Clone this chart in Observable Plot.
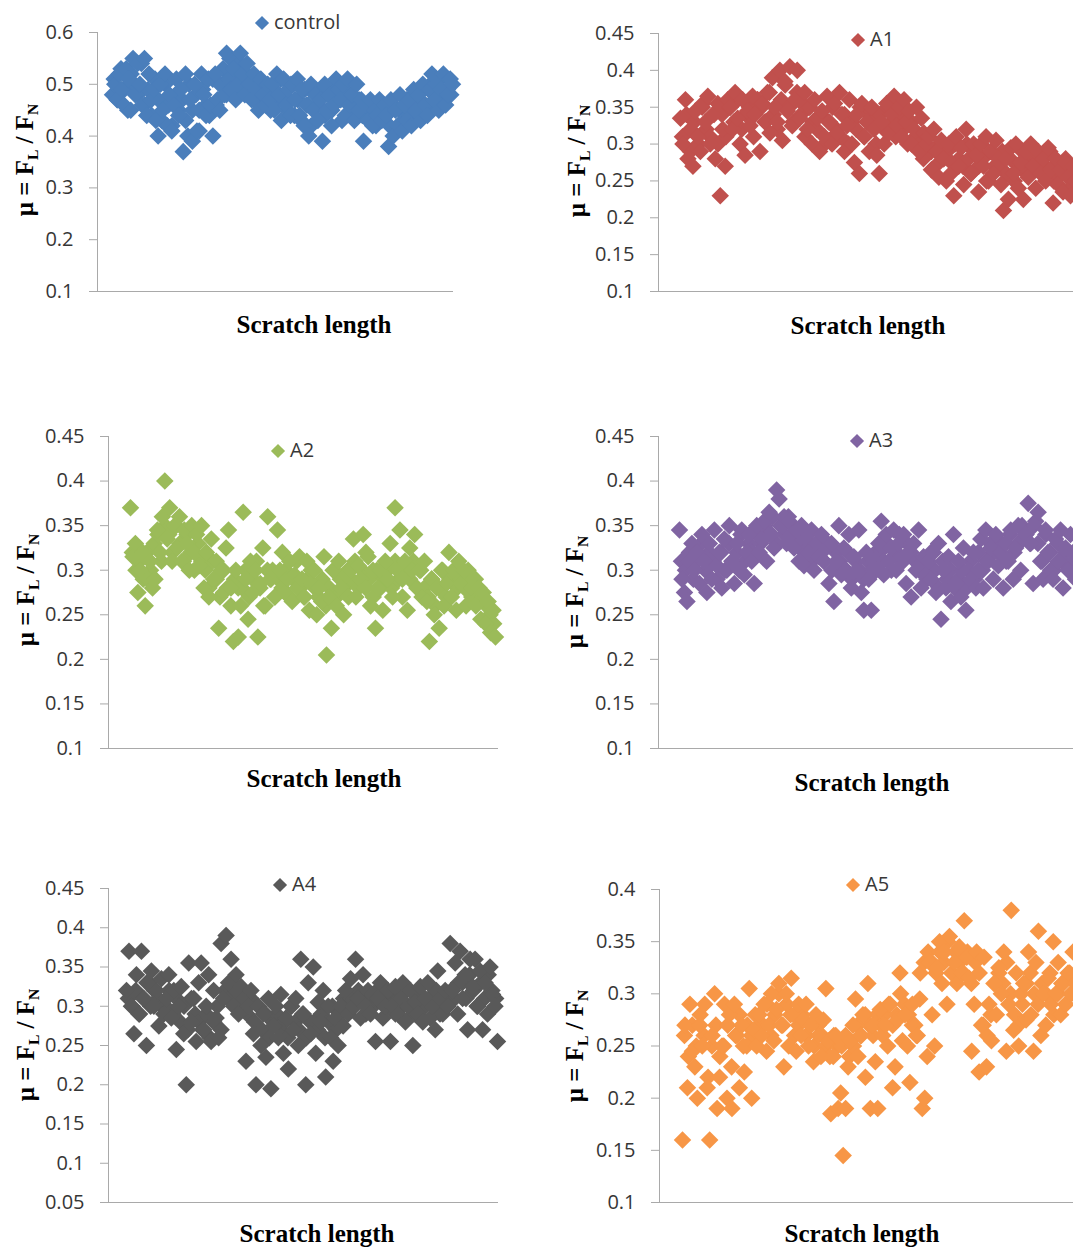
<!DOCTYPE html>
<html><head><meta charset="utf-8">
<script src="https://cdn.jsdelivr.net/npm/d3@7"></script>
<script src="https://cdn.jsdelivr.net/npm/@observablehq/plot@0.6"></script>
<style>
html,body{margin:0;padding:0;background:#fff;overflow:hidden;}
#chart{position:relative;width:1073px;height:1249px;overflow:hidden;background:#fff;}
.ylab{position:absolute;font-family:"Liberation Serif","Times New Roman",serif;font-weight:bold;font-size:25px;white-space:nowrap;transform:translate(-50%,-50%) rotate(-90deg);color:#000;line-height:1;}
.ylab sub{font-size:0.62em;vertical-align:-0.3em;}
.xt{position:absolute;font-family:"Liberation Serif","Times New Roman",serif;font-weight:bold;font-size:25px;line-height:1;transform:translateX(-50%);white-space:nowrap;color:#000;}
.leg{position:absolute;font-family:"Open Sans",sans-serif;font-size:20px;line-height:1;color:#383838;white-space:nowrap;}
.sw{position:absolute;width:10px;height:10px;transform:translate(-50%,-50%) rotate(45deg);}
</style></head><body><div id="chart"></div><script>
// Series names and colours
const seriesNames = ["control", "A1", "A2", "A3", "A4", "A5"];
const seriesColors = ["#4A7EBB", "#C0504D", "#9BBB59", "#8064A2", "#595959", "#F79646"];

// Y tick labels per panel
const ticksControl = [0.1, 0.2, 0.3, 0.4, 0.5, 0.6];
const ticksA1 = [0.1, 0.15, 0.2, 0.25, 0.3, 0.35, 0.4, 0.45];
const ticksA2 = [0.1, 0.15, 0.2, 0.25, 0.3, 0.35, 0.4, 0.45];
const ticksA3 = [0.1, 0.15, 0.2, 0.25, 0.3, 0.35, 0.4, 0.45];
const ticksA4 = [0.05, 0.1, 0.15, 0.2, 0.25, 0.3, 0.35, 0.4, 0.45];
const ticksA5 = [0.1, 0.15, 0.2, 0.25, 0.3, 0.35, 0.4];

// Friction coefficient values along the scratch, outer spread
const muControl = [0.48,0.50,0.47,0.52,0.49,0.46,0.53,0.51,0.45,0.55,
 0.48,0.54,0.50,0.46,0.55,0.44,0.52,0.47,0.49,0.43,
 0.40,0.50,0.45,0.52,0.42,0.48,0.41,0.46,0.51,0.44,
 0.49,0.37,0.52,0.40,0.47,0.39,0.50,0.41,0.45,0.52,
 0.48,0.44,0.51,0.46,0.40,0.52,0.47,0.45,0.50,0.48,
 0.56,0.51,0.49,0.53,0.47,0.50,0.56,0.52,0.48,0.54,
 0.50,0.47,0.52,0.49,0.45,0.51,0.48,0.46,0.50,0.47,
 0.50,0.45,0.52,0.48,0.43,0.51,0.46,0.49,0.44,0.50,
 0.47,0.51,0.44,0.49,0.42,0.46,0.40,0.50,0.45,0.48,
 0.43,0.47,0.39,0.50,0.45,0.48,0.42,0.46,0.51,0.49,
 0.47,0.50,0.44,0.51,0.46,0.48,0.43,0.50,0.45,0.47,
 0.39,0.46,0.43,0.47,0.42,0.45,0.44,0.47,0.43,0.46,
 0.44,0.38,0.47,0.40,0.45,0.42,0.48,0.41,0.46,0.43,
 0.47,0.42,0.49,0.45,0.48,0.43,0.50,0.46,0.44,0.49,
 0.52,0.47,0.50,0.45,0.49,0.52,0.46,0.48,0.51,0.50];

const muA1 = [0.335,0.30,0.36,0.28,0.32,0.27,0.345,0.31,0.29,0.355,
 0.33,0.365,0.30,0.34,0.28,0.355,0.23,0.32,0.27,0.36,
 0.35,0.32,0.37,0.335,0.30,0.36,0.285,0.345,0.325,0.365,
 0.34,0.36,0.29,0.355,0.33,0.37,0.315,0.39,0.35,0.33,
 0.40,0.305,0.385,0.345,0.405,0.325,0.36,0.40,0.335,0.355,
 0.37,0.32,0.35,0.30,0.36,0.335,0.29,0.345,0.31,0.365,
 0.33,0.30,0.355,0.315,0.37,0.34,0.29,0.325,0.36,0.30,
 0.275,0.34,0.26,0.355,0.31,0.33,0.29,0.35,0.32,0.285,
 0.26,0.33,0.30,0.355,0.315,0.34,0.365,0.325,0.35,0.31,
 0.36,0.33,0.345,0.30,0.32,0.35,0.29,0.335,0.315,0.30,
 0.31,0.265,0.32,0.29,0.255,0.305,0.28,0.25,0.30,0.275,
 0.23,0.31,0.27,0.295,0.245,0.32,0.28,0.26,0.30,0.285,
 0.235,0.30,0.27,0.31,0.25,0.29,0.26,0.305,0.28,0.245,
 0.21,0.28,0.225,0.295,0.26,0.30,0.24,0.275,0.225,0.29,
 0.255,0.30,0.27,0.24,0.29,0.26,0.28,0.25,0.295,0.265,
 0.22,0.28,0.245,0.265,0.235,0.275,0.255,0.23,0.27,0.25];

const muA2 = [0.37,0.315,0.33,0.275,0.30,0.32,0.26,0.29,0.31,0.28,
 0.29,0.345,0.32,0.36,0.40,0.335,0.37,0.31,0.35,0.325,
 0.36,0.31,0.345,0.33,0.30,0.35,0.32,0.34,0.305,0.35,
 0.28,0.32,0.27,0.335,0.29,0.31,0.235,0.30,0.275,0.325,
 0.345,0.28,0.22,0.30,0.225,0.26,0.365,0.29,0.245,0.31,
 0.275,0.30,0.225,0.285,0.325,0.26,0.36,0.29,0.30,0.27,
 0.345,0.30,0.32,0.275,0.29,0.31,0.265,0.295,0.28,0.315,
 0.29,0.27,0.31,0.255,0.285,0.30,0.25,0.28,0.265,0.315,
 0.205,0.27,0.235,0.30,0.26,0.31,0.28,0.25,0.295,0.27,
 0.30,0.335,0.27,0.305,0.29,0.34,0.28,0.315,0.26,0.30,
 0.235,0.28,0.30,0.255,0.31,0.29,0.33,0.27,0.37,0.30,
 0.345,0.29,0.31,0.255,0.325,0.30,0.34,0.28,0.30,0.27,
 0.31,0.265,0.22,0.29,0.25,0.28,0.235,0.30,0.26,0.285,
 0.32,0.27,0.30,0.255,0.31,0.285,0.30,0.26,0.295,0.28,
 0.29,0.26,0.28,0.245,0.275,0.24,0.265,0.23,0.255,0.225];

const muA3 = [0.345,0.29,0.275,0.265,0.31,0.33,0.30,0.32,0.285,0.34,
 0.31,0.275,0.33,0.29,0.345,0.305,0.32,0.28,0.335,0.30,
 0.35,0.31,0.285,0.33,0.30,0.345,0.295,0.32,0.34,0.31,
 0.285,0.35,0.32,0.335,0.355,0.31,0.365,0.34,0.325,0.39,
 0.38,0.35,0.36,0.33,0.355,0.34,0.325,0.345,0.31,0.35,
 0.305,0.335,0.32,0.345,0.30,0.33,0.315,0.34,0.31,0.325,
 0.285,0.33,0.265,0.31,0.35,0.295,0.325,0.30,0.34,0.28,
 0.315,0.30,0.345,0.275,0.255,0.32,0.29,0.255,0.31,0.30,
 0.33,0.355,0.295,0.34,0.31,0.325,0.345,0.30,0.33,0.315,
 0.34,0.285,0.32,0.27,0.33,0.30,0.345,0.28,0.315,0.295,
 0.31,0.29,0.32,0.275,0.33,0.245,0.30,0.28,0.315,0.265,
 0.34,0.285,0.31,0.27,0.325,0.255,0.30,0.29,0.32,0.28,
 0.30,0.335,0.28,0.345,0.31,0.325,0.29,0.34,0.305,0.32,
 0.28,0.33,0.31,0.345,0.29,0.325,0.35,0.30,0.335,0.34,
 0.375,0.33,0.285,0.355,0.365,0.31,0.29,0.345,0.32,0.30,
 0.29,0.335,0.31,0.345,0.28,0.325,0.30,0.34,0.32,0.29];

const muA4 = [0.32,0.37,0.30,0.265,0.34,0.29,0.37,0.31,0.25,0.33,
 0.345,0.30,0.32,0.275,0.335,0.29,0.31,0.34,0.285,0.32,
 0.245,0.30,0.325,0.265,0.20,0.355,0.28,0.31,0.255,0.33,
 0.355,0.27,0.30,0.34,0.255,0.32,0.285,0.26,0.38,0.31,
 0.39,0.33,0.36,0.30,0.34,0.29,0.325,0.31,0.23,0.30,
 0.32,0.265,0.20,0.30,0.25,0.29,0.235,0.31,0.195,0.275,
 0.30,0.26,0.315,0.24,0.285,0.22,0.30,0.27,0.31,0.25,
 0.36,0.29,0.20,0.33,0.265,0.35,0.24,0.305,0.28,0.32,
 0.21,0.30,0.26,0.23,0.285,0.25,0.30,0.275,0.32,0.29,
 0.335,0.30,0.36,0.31,0.285,0.34,0.30,0.32,0.29,0.315,
 0.255,0.31,0.33,0.285,0.30,0.32,0.255,0.30,0.325,0.29,
 0.31,0.33,0.28,0.30,0.32,0.25,0.305,0.29,0.325,0.28,
 0.31,0.33,0.285,0.30,0.27,0.345,0.31,0.29,0.32,0.30,
 0.38,0.32,0.355,0.29,0.37,0.31,0.34,0.27,0.36,0.325,
 0.36,0.30,0.345,0.27,0.33,0.29,0.35,0.315,0.30,0.255];

const muA5 = [0.16,0.27,0.21,0.29,0.245,0.23,0.20,0.27,0.25,0.29,
 0.21,0.16,0.26,0.30,0.19,0.22,0.25,0.29,0.20,0.28,
 0.19,0.29,0.26,0.21,0.27,0.225,0.25,0.305,0.20,0.265,
 0.25,0.28,0.26,0.29,0.245,0.27,0.30,0.255,0.285,0.31,
 0.27,0.23,0.30,0.25,0.315,0.28,0.245,0.29,0.26,0.275,
 0.29,0.25,0.27,0.235,0.28,0.26,0.24,0.275,0.305,0.255,
 0.185,0.24,0.26,0.19,0.205,0.145,0.19,0.23,0.255,0.27,
 0.295,0.24,0.26,0.28,0.22,0.31,0.19,0.27,0.235,0.19,
 0.285,0.26,0.27,0.25,0.29,0.21,0.23,0.275,0.32,0.255,
 0.28,0.25,0.215,0.29,0.27,0.26,0.295,0.19,0.20,0.24,
 0.33,0.28,0.25,0.325,0.35,0.31,0.34,0.29,0.355,0.32,
 0.33,0.31,0.345,0.32,0.37,0.335,0.315,0.245,0.29,0.34,
 0.225,0.27,0.335,0.23,0.29,0.255,0.31,0.28,0.325,0.30,
 0.34,0.245,0.29,0.38,0.265,0.32,0.25,0.30,0.31,0.275,
 0.34,0.28,0.245,0.33,0.36,0.26,0.30,0.27,0.315,0.29,
 0.35,0.30,0.33,0.28,0.31,0.29,0.32,0.30,0.34,0.31];

// Core of each band (denser middle readings)
const muControlCore = [0.51,0.47,0.53,0.49,0.45,0.52,0.50,0.48,0.54,0.46,
 0.49,0.44,0.51,0.47,0.43,0.50,0.46,0.42,0.48,0.45,
 0.47,0.43,0.50,0.45,0.48,0.41,0.49,0.46,0.44,0.51,
 0.46,0.50,0.53,0.48,0.55,0.51,0.49,0.54,0.50,0.52,
 0.49,0.47,0.51,0.46,0.50,0.48,0.45,0.49,0.47,0.51,
 0.48,0.45,0.50,0.44,0.47,0.43,0.49,0.46,0.42,0.48,
 0.46,0.49,0.44,0.48,0.45,0.50,0.47,0.43,0.49,0.46,
 0.48,0.45,0.47,0.44,0.46,0.43,0.45,0.42,0.46,0.44,
 0.44,0.42,0.46,0.41,0.45,0.43,0.47,0.44,0.48,0.46,
 0.47,0.49,0.45,0.50,0.48,0.46,0.51,0.47,0.49,0.48];

const muA1Core = [0.31,0.34,0.29,0.33,0.30,0.35,0.32,0.31,0.34,0.30,
 0.34,0.31,0.35,0.33,0.36,0.32,0.34,0.35,0.31,0.36,
 0.35,0.33,0.37,0.34,0.32,0.36,0.38,0.35,0.33,0.37,
 0.34,0.31,0.35,0.33,0.32,0.34,0.30,0.33,0.35,0.32,
 0.31,0.34,0.30,0.33,0.32,0.35,0.31,0.34,0.33,0.30,
 0.34,0.32,0.35,0.33,0.31,0.34,0.32,0.30,0.33,0.31,
 0.30,0.28,0.31,0.29,0.27,0.30,0.28,0.29,0.26,0.30,
 0.28,0.27,0.30,0.26,0.29,0.27,0.28,0.25,0.29,0.27,
 0.27,0.29,0.26,0.28,0.25,0.27,0.29,0.26,0.28,0.27,
 0.28,0.26,0.27,0.29,0.25,0.27,0.26,0.28,0.24,0.27];

const muA2Core = [0.32,0.30,0.31,0.29,0.32,0.30,0.33,0.34,0.31,0.35,
 0.34,0.32,0.35,0.33,0.31,0.34,0.32,0.30,0.33,0.31,
 0.30,0.28,0.31,0.29,0.27,0.30,0.28,0.26,0.29,0.28,
 0.28,0.30,0.27,0.29,0.31,0.28,0.26,0.30,0.29,0.27,
 0.29,0.28,0.30,0.27,0.29,0.31,0.28,0.27,0.29,0.30,
 0.28,0.27,0.29,0.26,0.28,0.30,0.27,0.29,0.28,0.30,
 0.29,0.31,0.28,0.30,0.32,0.29,0.27,0.30,0.28,0.29,
 0.30,0.28,0.31,0.29,0.27,0.30,0.29,0.31,0.28,0.30,
 0.28,0.27,0.29,0.26,0.28,0.30,0.27,0.29,0.30,0.28,
 0.29,0.28,0.30,0.27,0.29,0.28,0.27,0.26,0.25,0.24];

const muA3Core = [0.31,0.30,0.32,0.29,0.31,0.33,0.30,0.32,0.31,0.29,
 0.32,0.30,0.33,0.31,0.32,0.34,0.31,0.33,0.32,0.34,
 0.33,0.35,0.34,0.36,0.33,0.35,0.34,0.36,0.35,0.34,
 0.33,0.32,0.34,0.31,0.33,0.32,0.31,0.33,0.30,0.32,
 0.31,0.30,0.32,0.29,0.31,0.30,0.29,0.31,0.30,0.32,
 0.32,0.31,0.33,0.30,0.32,0.34,0.31,0.33,0.32,0.31,
 0.30,0.31,0.29,0.32,0.30,0.28,0.31,0.29,0.30,0.28,
 0.29,0.30,0.28,0.31,0.29,0.32,0.30,0.31,0.33,0.32,
 0.32,0.33,0.31,0.34,0.32,0.33,0.35,0.34,0.33,0.35,
 0.33,0.31,0.34,0.32,0.30,0.33,0.31,0.32,0.30,0.31];

const muA4Core = [0.31,0.30,0.32,0.29,0.31,0.33,0.30,0.32,0.31,0.30,
 0.30,0.32,0.29,0.31,0.28,0.30,0.27,0.31,0.29,0.28,
 0.27,0.29,0.26,0.28,0.30,0.27,0.32,0.31,0.33,0.32,
 0.31,0.30,0.29,0.31,0.28,0.30,0.27,0.29,0.26,0.28,
 0.29,0.27,0.28,0.26,0.30,0.28,0.27,0.29,0.26,0.28,
 0.28,0.27,0.29,0.26,0.28,0.30,0.27,0.29,0.31,0.30,
 0.31,0.30,0.32,0.31,0.29,0.31,0.30,0.32,0.31,0.30,
 0.30,0.31,0.29,0.31,0.30,0.32,0.30,0.29,0.31,0.30,
 0.30,0.31,0.30,0.32,0.29,0.31,0.30,0.32,0.31,0.33,
 0.33,0.31,0.34,0.32,0.30,0.33,0.31,0.34,0.32,0.31];

const muA5Core = [0.26,0.24,0.27,0.25,0.28,0.26,0.22,0.25,0.27,0.24,
 0.25,0.27,0.23,0.26,0.28,0.25,0.27,0.26,0.28,0.27,
 0.27,0.29,0.26,0.28,0.30,0.27,0.29,0.28,0.26,0.27,
 0.28,0.26,0.27,0.25,0.27,0.26,0.25,0.24,0.26,0.25,
 0.25,0.26,0.24,0.25,0.27,0.26,0.28,0.27,0.26,0.28,
 0.27,0.28,0.29,0.27,0.28,0.30,0.29,0.28,0.27,0.26,
 0.32,0.33,0.34,0.33,0.32,0.34,0.33,0.35,0.32,0.34,
 0.33,0.32,0.34,0.31,0.33,0.32,0.27,0.26,0.28,0.31,
 0.32,0.31,0.33,0.30,0.28,0.27,0.29,0.31,0.32,0.30,
 0.29,0.31,0.30,0.32,0.28,0.30,0.31,0.29,0.32,0.30];

const seriesValues = [muControl, muA1, muA2, muA3, muA4, muA5];
const seriesCore = [muControlCore, muA1Core, muA2Core, muA3Core, muA4Core, muA5Core];
const seriesTicks = [ticksControl, ticksA1, ticksA2, ticksA3, ticksA4, ticksA5];
const yDomains = [[0.1, 0.6], [0.1, 0.45], [0.1, 0.45], [0.1, 0.45], [0.05, 0.45], [0.1, 0.4]];

// Page layout (pixels) for each panel
const layout = [
  {x0: 97, x1: 453, yTop: 32, yBot: 291, xFirst: 112, xLast: 452, leg: [262, 23], ylab: [26, 160], xt: [314, 333]},
  {x0: 658, x1: 1090, yTop: 33, yBot: 291, xFirst: 680, xLast: 1075, leg: [858, 40], ylab: [578, 161], xt: [868, 334]},
  {x0: 108, x1: 498, yTop: 436, yBot: 748, xFirst: 130, xLast: 495, leg: [278, 451], ylab: [27, 590], xt: [324, 787]},
  {x0: 658, x1: 1090, yTop: 436, yBot: 748, xFirst: 679, xLast: 1075, leg: [857, 441], ylab: [576, 592], xt: [872, 791]},
  {x0: 108, x1: 498, yTop: 888, yBot: 1202, xFirst: 126, xLast: 497, leg: [280, 885], ylab: [27, 1045], xt: [317, 1242]},
  {x0: 659, x1: 1090, yTop: 889, yBot: 1202, xFirst: 682, xLast: 1075, leg: [853, 885], ylab: [576, 1046], xt: [862, 1242]}
];

const chart = document.getElementById("chart");
const axisGray = "#a9a9a9";

seriesNames.forEach((name, k) => {
  const L = layout[k];
  const outer = seriesValues[k];
  const core = seriesCore[k];
  const mL = 70, mR = 14, mT = 14, mB = 14;
  const W = (L.x1 - L.x0) + mL + mR;
  const H = (L.yBot - L.yTop) + mT + mB;
  const span = L.xLast - L.xFirst;
  const d0 = (L.x0 - L.xFirst) / span;
  const d1 = (L.x1 - L.xFirst) / span;
  // position along the scratch as a fraction of the measured length
  const data = [
    ...core.map((v, j) => ({pos: (j + 0.5) / core.length, mu: v})),
    ...outer.map((v, i) => ({pos: i / (outer.length - 1), mu: v}))
  ];
  const [lo, hi] = yDomains[k];

  const svg = Plot.plot({
    width: W, height: H,
    marginLeft: mL, marginRight: mR, marginTop: mT, marginBottom: mB,
    style: {fontFamily: "'Open Sans', sans-serif", background: "transparent", overflow: "visible"},
    x: {domain: [d0, d1], axis: null},
    y: {domain: [lo, hi]},
    marks: [
      Plot.ruleX([d0], {stroke: axisGray}),
      Plot.ruleY([lo], {stroke: axisGray}),
      Plot.axisY(seriesTicks[k], {tickSize: 8, tickPadding: 16, fontSize: 20, color: "#363636", stroke: axisGray, tickFormat: d => `${d}`, label: null}),
      Plot.dot(data, {x: "pos", y: "mu", symbol: "diamond2", r: 7.9, fill: seriesColors[k], stroke: "none"})
    ]
  });
  svg.style.position = "absolute";
  svg.style.left = (L.x0 - mL) + "px";
  svg.style.top = (L.yTop - mT) + "px";
  svg.style.maxWidth = "none";
  chart.appendChild(svg);

  // legend
  const sw = document.createElement("div");
  sw.className = "sw";
  sw.style.left = L.leg[0] + "px";
  sw.style.top = L.leg[1] + "px";
  sw.style.background = seriesColors[k];
  chart.appendChild(sw);
  const lt = document.createElement("div");
  lt.className = "leg";
  lt.textContent = name;
  lt.style.left = (L.leg[0] + 12) + "px";
  lt.style.top = (L.leg[1] + 7 - 18) + "px";
  chart.appendChild(lt);

  // y label
  const yl = document.createElement("div");
  yl.className = "ylab";
  yl.innerHTML = "μ = F<sub>L</sub> / F<sub>N</sub>";
  yl.style.left = L.ylab[0] + "px";
  yl.style.top = L.ylab[1] + "px";
  chart.appendChild(yl);

  // x title
  const xt = document.createElement("div");
  xt.className = "xt";
  xt.textContent = "Scratch length";
  xt.style.left = L.xt[0] + "px";
  xt.style.top = (L.xt[1] - 21) + "px";
  chart.appendChild(xt);
});
</script></body></html>
